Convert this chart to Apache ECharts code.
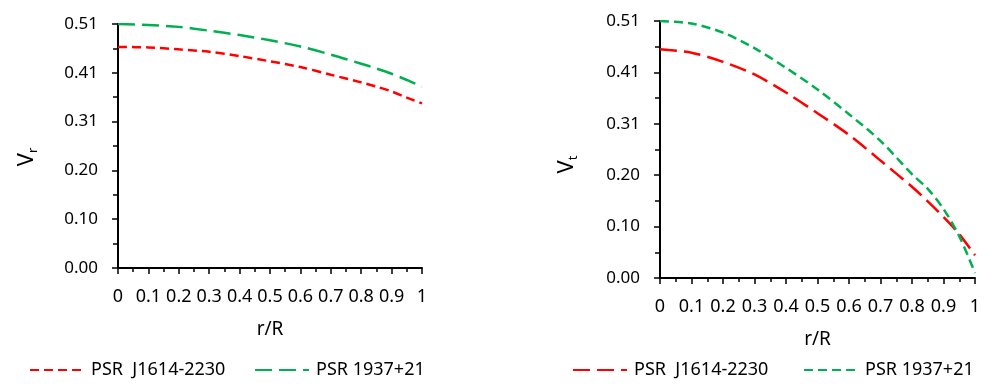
<!DOCTYPE html>
<html lang="en">

<head>
    <meta charset="UTF-8">
    <title>Vr Vt</title>
    <script src="https://cdn.jsdelivr.net/npm/echarts@6/dist/echarts.min.js"></script>
    <style>
        body { margin: 0; background: #fff; }
        #chart_r { position: absolute; left: 0px; top: 0px; width: 494px; height: 385px; }
        #chart_t { position: absolute; left: 494px; top: 0px; width: 495px; height: 385px; }
    </style>
</head>

<body>
    <div id="chart_r"></div>
    <div id="chart_t"></div>
    <script>
        // r/R sample points
        var rList = [0, 0.1, 0.2, 0.3, 0.4, 0.5, 0.6, 0.7, 0.8, 0.85, 0.9, 0.95, 1];
        // V_r
        var vrJ1614 = [0.462, 0.461, 0.457, 0.452, 0.443, 0.432, 0.420, 0.404, 0.388, 0.379, 0.369, 0.356, 0.344];
        var vr1937 = [0.510, 0.508, 0.504, 0.496, 0.487, 0.476, 0.463, 0.446, 0.427, 0.417, 0.406, 0.393, 0.379];
        // V_t
        var vtJ1614 = [0.454, 0.447, 0.429, 0.404, 0.368, 0.327, 0.284, 0.233, 0.181, 0.152, 0.121, 0.087, 0.045];
        var vt1937 = [0.510, 0.505, 0.487, 0.456, 0.417, 0.374, 0.325, 0.272, 0.206, 0.177, 0.137, 0.083, 0.010];
        var seriesNames = ['PSR  J1614-2230', 'PSR 1937+21'];
        var yMax = 0.51;
        var yStep = 0.102;

        var FONT = 'Noto Sans';
        var RED = '#FF0000';
        var GREEN = '#00B050';
        var SHORT_DASH = [9, 5];
        var LONG_DASH = [17, 7];

        function pairs(xs, ys) {
            var out = [];
            for (var i = 0; i < xs.length; i++) {
                out.push([xs[i], ys[i]]);
            }
            return out;
        }

        function legendFor(name, left) {
            return {
                data: [name],
                left: left,
                top: 361,
                padding: 0,
                itemWidth: 54,
                itemHeight: 14,
                itemStyle: { opacity: 0, borderWidth: 0 },
                textStyle: { fontSize: 18, color: '#000', fontFamily: FONT, padding: [0, 0, 0, 2] }
            };
        }

        function makeOption(cfg) {
            return {
                animation: false,
                textStyle: { fontFamily: FONT },
                grid: cfg.grid,
                legend: [legendFor(seriesNames[0], cfg.legendLeft[0]), legendFor(seriesNames[1], cfg.legendLeft[1])],
                xAxis: {
                    type: 'value',
                    min: 0,
                    max: 1,
                    interval: 0.1,
                    name: 'r/R',
                    nameLocation: 'middle',
                    nameGap: 52,
                    nameTextStyle: { fontSize: 19, color: '#000', fontFamily: FONT },
                    axisLine: { lineStyle: { color: '#000', width: 2 } },
                    axisTick: { length: 6, lineStyle: { color: '#000', width: 1.5 } },
                    minorTick: { show: true, splitNumber: 2, length: 4, lineStyle: { color: '#000', width: 1.5 } },
                    splitLine: { show: false },
                    axisLabel: {
                        margin: 20,
                        fontSize: 18,
                        color: '#000',
                        formatter: function (v) {
                            return String(Math.round(v * 10) / 10);
                        }
                    }
                },
                yAxis: {
                    type: 'value',
                    min: 0,
                    max: yMax,
                    interval: yStep,
                    name: cfg.yName,
                    nameLocation: 'middle',
                    nameGap: cfg.yNameGap,
                    nameRotate: 90,
                    nameTextStyle: {
                        color: '#000',
                        padding: cfg.yNamePad,
                        rich: {
                            v: { fontSize: 22, color: '#000', fontFamily: FONT, lineHeight: 26 },
                            s: { fontSize: 13, color: '#000', fontFamily: FONT, verticalAlign: 'bottom', lineHeight: 26 }
                        }
                    },
                    axisLine: { show: true, lineStyle: { color: '#000', width: 2 } },
                    axisTick: { show: true, length: 6, lineStyle: { color: '#000', width: 1.5 } },
                    minorTick: { show: true, splitNumber: 2, length: 5, lineStyle: { color: '#000', width: 1.5 } },
                    splitLine: { show: false },
                    axisLabel: {
                        margin: 20,
                        fontSize: 17,
                        color: '#000',
                        formatter: function (v) {
                            return v.toFixed(2);
                        }
                    }
                },
                series: [{
                    name: seriesNames[0],
                    type: 'line',
                    smooth: 0.3,
                    symbol: 'none',
                    color: RED,
                    lineStyle: { color: RED, width: 2.5, type: cfg.dash[0] },
                    data: pairs(rList, cfg.data[0])
                }, {
                    name: seriesNames[1],
                    type: 'line',
                    smooth: 0.3,
                    symbol: 'none',
                    color: GREEN,
                    lineStyle: { color: GREEN, width: 2.5, type: cfg.dash[1] },
                    data: pairs(rList, cfg.data[1])
                }]
            };
        }

        var chartR = echarts.init(document.getElementById('chart_r'));
        chartR.setOption(makeOption({
            grid: { left: 118, top: 24, width: 304, height: 244 },
            legendLeft: [29, 254],
            yName: '{v|V}{s|r}',
            yNameGap: 78,
            yNamePad: [0, 22, 0, 0],
            dash: [SHORT_DASH, LONG_DASH],
            data: [vrJ1614, vr1937]
        }));

        var chartT = echarts.init(document.getElementById('chart_t'));
        chartT.setOption(makeOption({
            grid: { left: 166, top: 21, width: 315, height: 257 },
            legendLeft: [78, 309],
            yName: '{v|V}{s|t}',
            yNameGap: 80,
            yNamePad: [0, 30, 0, 0],
            dash: [LONG_DASH, SHORT_DASH],
            data: [vtJ1614, vt1937]
        }));
    </script>
</body>

</html>
